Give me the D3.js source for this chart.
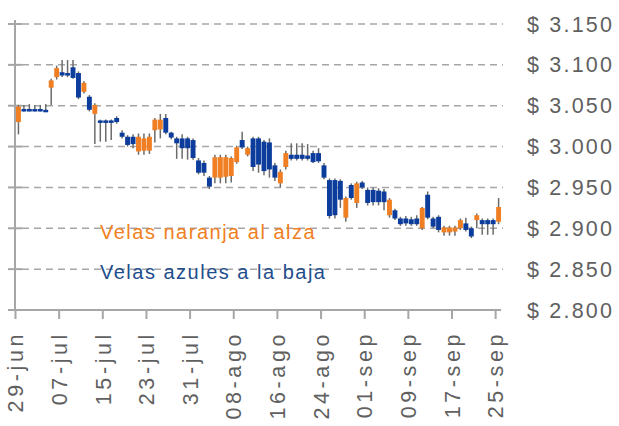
<!DOCTYPE html>
<html>
<head>
<meta charset="utf-8">
<script src="https://cdnjs.cloudflare.com/ajax/libs/d3/7.8.5/d3.min.js"></script>
<style>
  body { margin: 0; background: #fff; }
  text { font-family: "Liberation Sans", Arial, sans-serif; }
</style>
</head>
<body>
<svg id="chart" width="619" height="426"></svg>
<script>
// daily candles, 29-jun to 25-sep
const startDay = "2017-06-29";
const endDay = "2017-09-26";

const opens = [3030,3046,3046,3046,3046,3045,3072,3085,3091,3090,3097,3090,3067,3061,3040,3032,3032,3032,3035,3017,
  3012,3012,2994,2995,2995,3020,3021,3035,3017,3010,3010,3010,3008,2983,2980,2962,2962,2962,2963,2964,
  2981,3008,2990,3010,3010,3006,3005,2977,2955,2975,2990,2990,2990,2989,2992,2992,2977,2959,2959,2958,
  2913,2953,2931,2956,2947,2947,2946,2945,2916,2922,2912,2912,2911,2912,2900,2941,2912,2914,2895,2895,
  2896,2900,2906,2900,2910,2910,2910,2910,2908];
const highs = [3051,3051,3052,3051,3051,3052,3083,3099,3106,3106,3106,3092,3080,3063,3053,3033,3033,3033,3037,3020,
  3014,3015,3016,3016,3016,3035,3040,3040,3018,3012,3015,3012,3010,2986,2983,2964,2990,2990,2990,2988,
  3001,3018,3000,3012,3012,3008,3010,2980,2972,2995,3004,3004,3004,3003,2995,2998,2980,2961,2961,2960,
  2939,2955,2957,2958,2950,2950,2949,2948,2937,2924,2914,2915,2914,2916,2926,2945,2914,2916,2903,2903,
  2903,2912,2913,2902,2918,2912,2912,2912,2937];
const lows = [3015,3043,3043,3043,3043,3043,3051,3082,3085,3085,3083,3058,3065,3043,3003,3006,3006,3008,3028,3010,
  3000,2998,2990,2990,2991,3005,3010,3015,3009,2985,2985,2984,2984,2966,2964,2948,2955,2955,2955,2956,
  2979,2997,2988,2970,2968,2965,2962,2958,2950,2972,2983,2983,2983,2983,2980,2980,2960,2912,2912,2925,
  2908,2935,2925,2948,2928,2928,2928,2922,2913,2910,2903,2903,2903,2903,2898,2911,2900,2895,2891,2891,
  2891,2898,2896,2888,2900,2892,2892,2892,2905];
const closes = [3049,3044,3044,3044,3044,3044,3081,3096,3087,3087,3084,3060,3078,3045,3051,3030,3030,3030,3030,3012,
  3002,3003,3012,3010,3012,3033,3033,3017,3011,3004,2998,2998,2986,2968,2968,2951,2987,2987,2987,2986,
  2999,2999,2998,2975,2978,2970,2972,2962,2969,2992,2985,2985,2985,2985,2981,2982,2962,2915,2916,2935,
  2937,2937,2955,2950,2931,2932,2932,2932,2935,2912,2905,2906,2905,2905,2925,2913,2902,2898,2901,2901,
  2901,2910,2898,2890,2916,2905,2905,2905,2926];

const yTicks = [2800, 2850, 2900, 2950, 3000, 3050, 3100, 3150];
const legendLines = ["Velas naranja al alza", "Velas azules a la baja"];

const upColor = "#f07f23";
const downColor = "#0c3d9c";
const wickColor = "#6b6b6b";
const axisColor = "#a6a6a6";
const labelColor = "#606060";

const esLocale = d3.timeFormatLocale({
  dateTime: "%x, %X", date: "%d/%m/%Y", time: "%H:%M:%S", periods: ["AM", "PM"],
  days: ["domingo","lunes","martes","miércoles","jueves","viernes","sábado"],
  shortDays: ["dom","lun","mar","mié","jue","vie","sáb"],
  months: ["enero","febrero","marzo","abril","mayo","junio","julio","agosto","septiembre","octubre","noviembre","diciembre"],
  shortMonths: ["ene","feb","mar","abr","may","jun","jul","ago","sep","oct","nov","dic"]
});
const fmt = esLocale.format("%d-%b");

const days = d3.timeDay.range(new Date(startDay + "T00:00"), new Date(endDay + "T00:00"));
const data = days.map((d, i) => ({ date: d, o: opens[i], h: highs[i], l: lows[i], c: closes[i] }));

const svg = d3.select("#chart");

const x = d3.scaleBand().domain(days).range([16, 16 + days.length * 5.45]).paddingInner(0.1);
const y = d3.scaleLinear().domain([2800, 3150]).range([310, 24]);

// grid
svg.append("g").selectAll("line")
  .data(yTicks.filter(t => t > 2800))
  .join("line")
  .attr("x1", 22).attr("x2", 503)
  .attr("y1", d => y(d)).attr("y2", d => y(d))
  .attr("stroke", axisColor).attr("stroke-width", 1.5)
  .attr("stroke-dasharray", "7,5");

// left axis with cross ticks
svg.append("line")
  .attr("x1", 15).attr("x2", 15).attr("y1", 20).attr("y2", 310)
  .attr("stroke", axisColor).attr("stroke-width", 2);
svg.append("g").selectAll("line")
  .data(yTicks)
  .join("line")
  .attr("x1", 8).attr("x2", 22)
  .attr("y1", d => y(d)).attr("y2", d => y(d))
  .attr("stroke", axisColor).attr("stroke-width", 2);

// bottom axis
const tickDays = days.filter((d, i) => i % 8 === 0);
svg.append("line")
  .attr("x1", 8).attr("x2", 501).attr("y1", y(2800)).attr("y2", y(2800))
  .attr("stroke", axisColor).attr("stroke-width", 2);
svg.append("g").selectAll("line")
  .data(tickDays)
  .join("line")
  .attr("x1", d => x(d) - 0.5).attr("x2", d => x(d) - 0.5)
  .attr("y1", y(2800)).attr("y2", y(2800) + 9)
  .attr("stroke", axisColor).attr("stroke-width", 2);

// x labels
svg.append("g").selectAll("text")
  .data(tickDays)
  .join("text")
  .attr("transform", d => `translate(${x(d) - 0.5},331) rotate(-90)`)
  .attr("text-anchor", "end")
  .attr("dy", "0.36em")
  .attr("font-size", 21.5)
  .attr("letter-spacing", 3.6)
  .attr("fill", labelColor)
  .text(d => fmt(d));

// right labels
svg.append("g").selectAll("text")
  .data(yTicks)
  .join("text")
  .attr("x", 527)
  .attr("y", d => y(d))
  .attr("dy", "0.35em")
  .attr("font-size", 21.5)
  .attr("letter-spacing", 2.2)
  .attr("fill", labelColor)
  .text(d => "$ " + d3.format(",")(d).replace(",", "."));

// candles
const bw = x.bandwidth();
const candles = svg.append("g").selectAll("g").data(data).join("g");
candles.append("line")
  .attr("x1", d => x(d.date) + bw / 2).attr("x2", d => x(d.date) + bw / 2)
  .attr("y1", d => y(d.h)).attr("y2", d => y(d.l))
  .attr("stroke", wickColor).attr("stroke-width", 1.5);
candles.append("rect")
  .attr("x", d => x(d.date))
  .attr("width", bw)
  .attr("y", d => y(Math.max(d.o, d.c)))
  .attr("height", d => Math.max(2.5, Math.abs(y(d.o) - y(d.c))))
  .attr("fill", d => d.c >= d.o ? upColor : downColor);

// legend text
svg.append("g").selectAll("text")
  .data(legendLines)
  .join("text")
  .attr("x", 100)
  .attr("y", (d, i) => 239 + i * 40)
  .attr("font-size", 20)
  .attr("letter-spacing", 1.5)
  .attr("fill", (d, i) => i === 0 ? upColor : "#1f4e8c")
  .text(d => d);
</script>
</body>
</html>
